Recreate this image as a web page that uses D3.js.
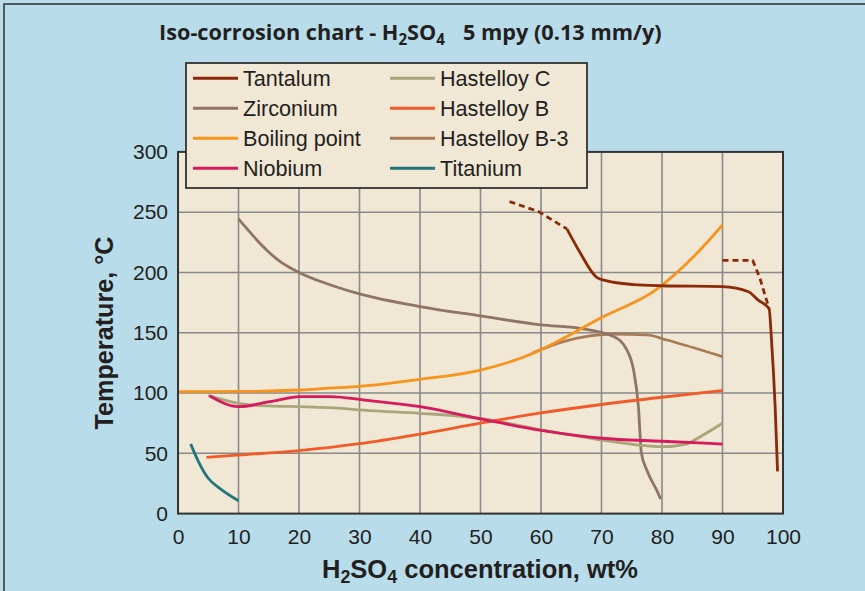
<!DOCTYPE html>
<html><head><meta charset="utf-8">
<script src="https://cdn.jsdelivr.net/npm/d3@7"></script>
<style>
html,body{margin:0;padding:0;background:#b8dcea;}
svg{display:block;}
text{font-family:"Liberation Sans",Arial,sans-serif;fill:#231f20;}
</style></head>
<body>
<svg id="c" width="865" height="591"></svg>
<script>
// ---- data ----
const xTicks = [0,10,20,30,40,50,60,70,80,90,100];
const yTicks = [0,50,100,150,200,250,300];

const tantalumX = [64.3,66.4,69.2,70.9,75.3,80,90,94.3,95.9,97.7,98.1,98.7,99.1];
const tantalumT = [236,217,196,193,190,189,188.3,184,177,170,144,88.7,35];
const tantalumDashAX = [54.8,59.6,64.3];
const tantalumDashAT = [258.8,250.5,236];
const tantalumDashBX = [90,95,96.2,97.7];
const tantalumDashBT = [210,210,195,170];

const zirconiumX = [10,16.9,20,25,30,40,50,60,66.4,72,74.2,75.3,76.1,76.6,77.5,79.1,79.8];
const zirconiumT = [244.4,209,200,190,182.2,171.7,164,156.5,153.7,146.8,135.7,119,88.7,50,36,19.6,12];

const boilingX = [0,10,20,25,30,40,50,58.7,63.7,69.75,79.1,85.2,90];
const boilingT = [101.2,101.3,102.5,104,105.5,111.4,119,133,145.4,162,186,213,239.4];

const niobiumX = [5.2,10,15.2,20.2,25,31.7,40,50,60,70,80,90];
const niobiumT = [97.8,88.7,92.8,97,97,93.7,88.7,78.5,69,62.5,60,57.7];

const hastCX = [5,10,15,20,25,31.7,40,50,60,70,80,84,86.3,90];
const hastCT = [97.8,91.5,89.3,88.7,87.9,85.4,83.2,79,69.4,61,55.5,57.7,63.8,75];

const hastBX = [4.7,10,20,30,40,50,60,70,80,90];
const hastBT = [46.7,48.6,52.3,58,66,75,83.5,90.5,96.5,102];

const hastB3X = [58.5,63.7,68.1,72,77.5,80.8,90];
const hastB3T = [133,142.6,147.4,148.8,148.2,144,130.2];

const titaniumX = [2.1,3.4,5,6.9,10];
const titaniumT = [57.7,43,29.3,21,10.7];

const legendNames = ["Tantalum","Zirconium","Boiling point","Niobium","Hastelloy C","Hastelloy B","Hastelloy B-3","Titanium"];
const legendColors = ["#8a2a08","#8f7563","#f7941d","#d8195c","#a9a67c","#f15a29","#a67b55","#21767c"];

// ---- drawing ----
const svg = d3.select("#c");
const W = 865, H = 591;
svg.append("rect").attr("width",W).attr("height",H).attr("fill","#b8dcea");
svg.append("rect").attr("x",4).attr("y",4).attr("width",W+10).attr("height",H+10)
   .attr("fill","none").attr("stroke","#3a3a3a").attr("stroke-width",1.6);

const x = d3.scaleLinear().domain([0,100]).range([178,783]);
const y = d3.scaleLinear().domain([0,300]).range([513.6,151.9]);

svg.append("rect").attr("x",x(0)).attr("y",y(300)).attr("width",x(100)-x(0)).attr("height",y(0)-y(300))
   .attr("fill","#f0e7d4");

// grid
const g = svg.append("g");
g.selectAll("line.v").data(xTicks.slice(1,-1)).join("line")
  .attr("x1",d=>x(d)).attr("x2",d=>x(d)).attr("y1",y(0)).attr("y2",y(300))
  .attr("stroke","#8a8a8a").attr("stroke-width",1.6);
g.selectAll("line.h").data(yTicks.slice(1,-1)).join("line")
  .attr("y1",d=>y(d)).attr("y2",d=>y(d)).attr("x1",x(0)).attr("x2",x(100))
  .attr("stroke","#8a8a8a").attr("stroke-width",1.6);

// axes
const xa = svg.append("g").attr("transform",`translate(0,${y(0)})`)
  .call(d3.axisBottom(x).tickValues(xTicks).tickSize(0).tickPadding(15.5).tickFormat(d3.format("d")));
const ya = svg.append("g").attr("transform",`translate(${x(0)},0)`)
  .call(d3.axisLeft(y).tickValues(yTicks).tickSize(0).tickPadding(10).tickFormat(d3.format("d")));
[xa,ya].forEach(a=>{a.select(".domain").remove();
  a.selectAll("text").attr("font-size",21).attr("font-family",'"Liberation Sans",Arial,sans-serif').attr("fill","#231f20");});

// curves
const line = d3.line().x(d=>x(d[0])).y(d=>y(d[1])).curve(d3.curveMonotoneX);
const lineLin = d3.line().x(d=>x(d[0])).y(d=>y(d[1]));
const zip = (a,b)=>a.map((v,i)=>[v,b[i]]);
function draw(xs,ts,color,gen,dash){
  svg.append("path").attr("d",(gen||line)(zip(xs,ts))).attr("fill","none")
    .attr("stroke",color).attr("stroke-width",2.8).attr("stroke-linejoin","round")
    .attr("stroke-dasharray",dash||null);
}
draw(hastB3X,hastB3T,legendColors[6]);
draw(zirconiumX,zirconiumT,legendColors[1]);
draw(boilingX,boilingT,legendColors[2]);
draw(hastCX,hastCT,legendColors[4]);
draw(hastBX,hastBT,legendColors[5]);
draw(niobiumX,niobiumT,legendColors[3]);
draw(titaniumX,titaniumT,legendColors[7]);
draw(tantalumX,tantalumT,legendColors[0]);
draw(tantalumDashAX,tantalumDashAT,legendColors[0],lineLin,"6,4");
draw(tantalumDashBX,tantalumDashBT,legendColors[0],lineLin,"6,4");

// frame
svg.append("rect").attr("x",x(0)).attr("y",y(300)).attr("width",x(100)-x(0)).attr("height",y(0)-y(300))
   .attr("fill","none").attr("stroke","#333").attr("stroke-width",2);

// legend
const lg = svg.append("g");
lg.append("rect").attr("x",186).attr("y",63).attr("width",401).attr("height",125)
  .attr("fill","#f0e7d4").attr("stroke","#333").attr("stroke-width",1.8);
legendNames.forEach((n,i)=>{
  const col = Math.floor(i/4), row = i%4;
  const lx = col===0?193:390, ly = 78.3+row*30;
  lg.append("line").attr("x1",lx).attr("x2",lx+45).attr("y1",ly).attr("y2",ly)
    .attr("stroke",legendColors[i]).attr("stroke-width",3);
  lg.append("text").attr("x",lx+50).attr("y",ly+7.7).attr("font-size",21.6).text(n);
});

// titles
function fit(sel,w){const l=sel.node().getComputedTextLength();const fs=+sel.attr("font-size");sel.attr("font-size",fs*w/l);}
const t = svg.append("text").attr("x",159).attr("y",40).attr("font-size",19).attr("font-weight",700)
  .style("font-family",'"Open Sans",sans-serif');
t.append("tspan").text("Iso-corrosion chart - H");
t.append("tspan").attr("font-size","70%").attr("dy",5).text("2");
t.append("tspan").attr("dy",-5).text("SO");
t.append("tspan").attr("font-size","70%").attr("dy",5).text("4");
t.append("tspan").attr("dy",-5).attr("dx",18).text("5 mpy (0.13 mm/y)");
fit(t,485);

const xt = svg.append("text").attr("x",480).attr("y",578).attr("text-anchor","middle")
  .attr("font-size",24).attr("font-weight",700);
xt.append("tspan").text("H");
xt.append("tspan").attr("font-size","70%").attr("dy",5).text("2");
xt.append("tspan").attr("dy",-5).text("SO");
xt.append("tspan").attr("font-size","70%").attr("dy",5).text("4");
xt.append("tspan").attr("dy",-5).text(" concentration, wt%");
fit(xt,316);

const yt = svg.append("text").attr("transform","translate(112.7,333) rotate(-90)").attr("text-anchor","middle")
  .attr("font-size",24).attr("font-weight",700).text("Temperature, °C");
fit(yt,193);
</script>
</body></html>
